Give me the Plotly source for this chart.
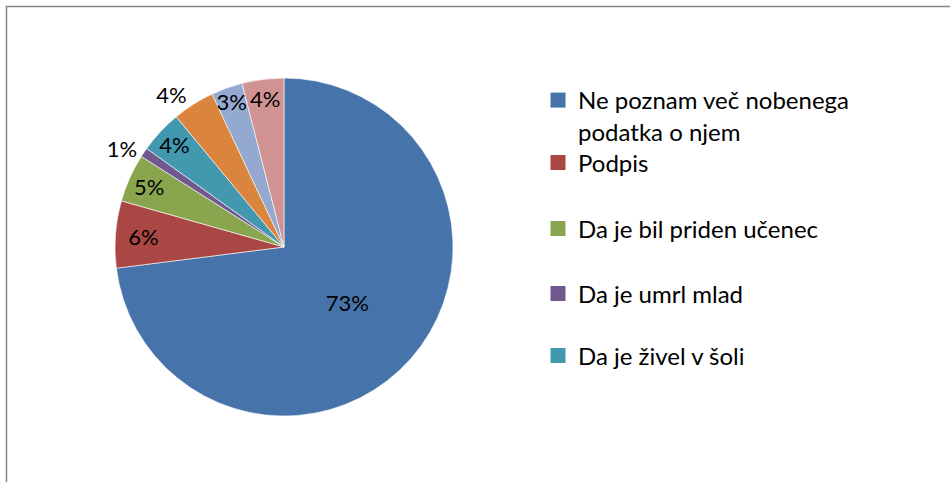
import plotly.graph_objects as go

categories = [
    "Ne poznam več nobenega podatka o njem",
    "Podpis",
    "Da je bil priden učenec",
    "Da je umrl mlad",
    "Da je živel v šoli",
    "Kategorija 6",
    "Kategorija 7",
    "Kategorija 8",
]
values = [73.0, 6.4, 4.6, 0.9, 4.1, 4.0, 3.0, 4.0]
colors = ["#4674AA", "#AA4643", "#89A54E", "#71588F", "#4198AF", "#DB843D", "#93A9CF", "#D19392"]
text_positions = ["inside", "inside", "inside", "outside", "inside", "outside", "inside", "inside"]

# legend entries shown (legend is truncated in the original)
legend_labels = [
    "Ne poznam več nobenega<br>podatka o njem",
    "Podpis",
    "Da je bil priden učenec",
    "Da je umrl mlad",
    "Da je živel v šoli",
]

W, H = 950, 482
FONT = "Lato"

fig = go.Figure()

cx, cy, R = 284, 247, 169
fig.add_trace(go.Pie(
    labels=categories,
    values=values,
    sort=False,
    direction="clockwise",
    rotation=0,
    marker=dict(colors=colors, line=dict(color="white", width=0.6)),
    texttemplate="%{percent:.0%}",
    textposition=text_positions,
    insidetextorientation="horizontal",
    textfont=dict(family=FONT, size=22, color="black"),
    showlegend=False,
    hoverinfo="label+percent",
    domain=dict(x=[(cx - R) / W, (cx + R) / W], y=[1 - (cy + R) / H, 1 - (cy - R) / H]),
))

# legend rows (y centres in px)
legend_y = [100, 163, 229, 294, 356]
for i, lab in enumerate(legend_labels):
    lname = "legend" if i == 0 else f"legend{i+1}"
    fig.add_trace(go.Scatter(
        x=[None], y=[None], mode="markers", name=lab,
        marker=dict(symbol="square", size=15, color=colors[i]),
        legend=lname, showlegend=True,
    ))

legend_x_px = 538
for i, ypx in enumerate(legend_y):
    lname = "legend" if i == 0 else f"legend{i+1}"
    cfg = dict(
        x=legend_x_px / W,
        xanchor="left",
        y=1 - (ypx - 22) / H if i == 0 else 1 - ypx / H,
        yanchor="top" if i == 0 else "middle",
        valign="top",
        font=dict(family=FONT, size=24, color="black"),
        bgcolor="rgba(0,0,0,0)",
        borderwidth=0,
        itemclick=False,
    )
    fig.update_layout({lname: cfg})

fig.update_layout(
    width=W, height=H,
    margin=dict(l=0, r=0, t=0, b=0),
    paper_bgcolor="white",
    plot_bgcolor="white",
    xaxis=dict(visible=False),
    yaxis=dict(visible=False),
    uniformtext=dict(minsize=22, mode="show"),
    shapes=[dict(
        type="rect", xref="paper", yref="paper",
        x0=6.5 / W, x1=1.02, y0=-0.02, y1=1 - 6.5 / H,
        line=dict(color="#868686", width=1.5),
        fillcolor="rgba(0,0,0,0)", layer="below",
    )],
)

fig.write_html("out.html")
